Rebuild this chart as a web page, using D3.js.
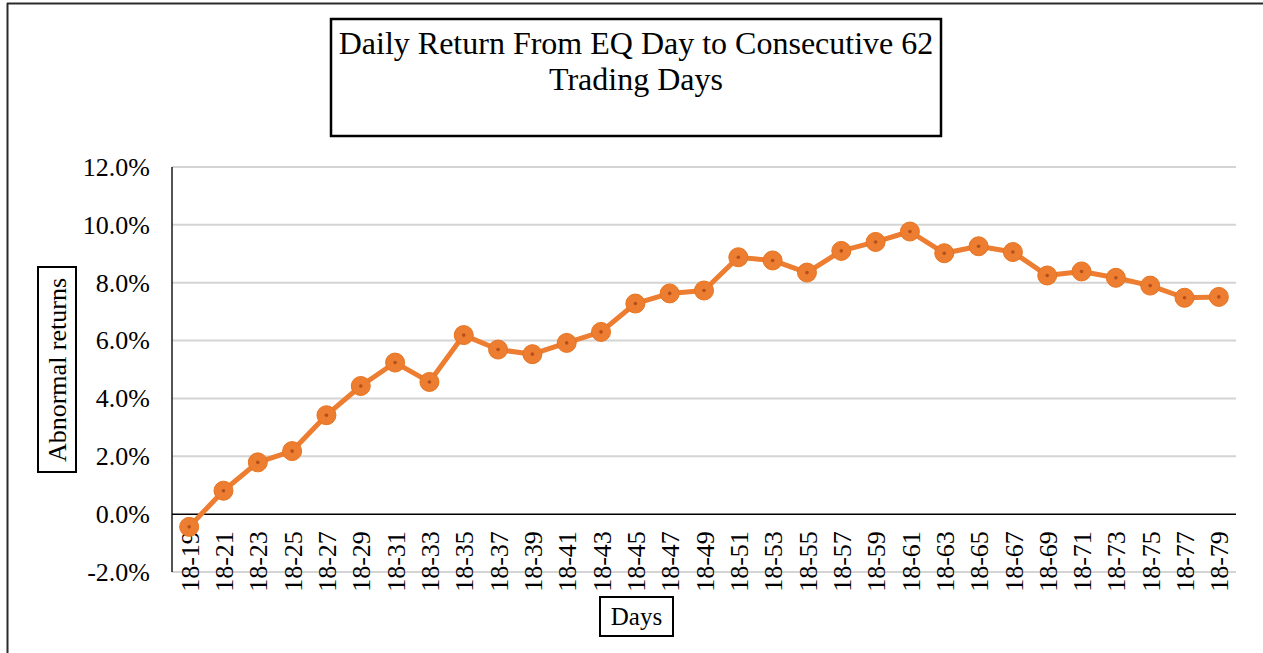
<!DOCTYPE html>
<html>
<head>
<meta charset="utf-8">
<script src="https://cdn.jsdelivr.net/npm/d3@7"></script>
<style>
  body { margin: 0; background: #fff; }
  svg { display: block; }
  svg text { font-family: "Liberation Serif", "DejaVu Serif", serif; fill: #000; }
</style>
</head>
<body>
<svg width="1263" height="653"></svg>
<script>
// categories (day windows) and abnormal returns
var days = ["18-19","18-21","18-23","18-25","18-27","18-29","18-31","18-33","18-35","18-37",
            "18-39","18-41","18-43","18-45","18-47","18-49","18-51","18-53","18-55","18-57",
            "18-59","18-61","18-63","18-65","18-67","18-69","18-71","18-73","18-75","18-77","18-79"];
var returns = [-0.0044, 0.0081, 0.0179, 0.0218, 0.0342, 0.0443, 0.0524, 0.0457, 0.0619, 0.0569,
               0.0553, 0.0592, 0.0630, 0.0728, 0.0763, 0.0773, 0.0888, 0.0877, 0.0835, 0.0910,
               0.0941, 0.0977, 0.0902, 0.0926, 0.0906, 0.0825, 0.0839, 0.0817, 0.0790, 0.0748, 0.0751];
var yTicks = [-0.02, 0, 0.02, 0.04, 0.06, 0.08, 0.10, 0.12];

var titleLines = ["Daily Return From EQ Day to Consecutive 62", "Trading Days"];
var yTitle = "Abnormal returns";
var xTitle = "Days";

var svg = d3.select("svg");
var plotL = 172, plotR = 1236, plotT = 167, plotB = 572;
var serif = "'Liberation Serif', serif";

var x = d3.scalePoint().domain(days).range([plotL, plotR]).padding(0.5);
var y = d3.scaleLinear().domain([-0.02, 0.12]).range([plotB, plotT]);

// outer frame (top and left edges visible)
svg.append("line").attr("x1", 7).attr("x2", 1263).attr("y1", 3.5).attr("y2", 3.5)
  .style("stroke", "#2b2b2b").style("stroke-width", 2);
svg.append("line").attr("x1", 7.5).attr("x2", 7.5).attr("y1", 3).attr("y2", 653)
  .style("stroke", "#2b2b2b").style("stroke-width", 2);

// title box
svg.append("rect").attr("x", 331).attr("y", 19).attr("width", 610).attr("height", 117)
  .style("fill", "#fff").style("stroke", "#000").style("stroke-width", 2.5);
svg.selectAll(".title").data(titleLines).enter().append("text")
  .attr("class", "title")
  .attr("x", 636)
  .attr("y", function (d, i) { return 54 + i * 36; })
  .attr("text-anchor", "middle")
  .style("font-family", serif)
  .style("font-size", "32px")
  .text(function (d) { return d; });

// gridlines
svg.append("g").selectAll("line").data(yTicks.filter(function (d) { return d !== 0; }))
  .enter().append("line")
  .attr("x1", plotL).attr("x2", plotR)
  .attr("y1", function (d) { return y(d); }).attr("y2", function (d) { return y(d); })
  .style("stroke", "#d4d4d4").style("stroke-width", 2);

// y axis
var pct = d3.format(".1%");
var yAxis = svg.append("g")
  .attr("transform", "translate(" + plotL + ",0)")
  .call(d3.axisLeft(y).tickValues(yTicks)
    .tickFormat(function (d) { return pct(d).replace("\u2212", "-"); })
    .tickSize(0).tickPadding(22));
yAxis.select(".domain").attr("d", "M0," + plotT + "V" + plotB).style("stroke", "#1a1a1a").style("stroke-width", 1.5);
yAxis.selectAll("text").style("font-size", "26px").style("font-family", serif).style("fill", "#000");

// x axis on zero line
var xAxis = svg.append("g")
  .attr("transform", "translate(0," + y(0) + ")")
  .call(d3.axisBottom(x).tickSize(0));
xAxis.select(".domain").attr("d", "M" + plotL + ",0H" + plotR).style("stroke", "#000").style("stroke-width", 1.5);
xAxis.selectAll("text")
  .attr("transform", "rotate(-90)")
  .attr("x", -17)
  .attr("y", 0)
  .attr("dy", "0.35em")
  .attr("text-anchor", "end")
  .style("font-size", "26px")
  .style("font-family", serif)
  .style("fill", "#000");

// axis titles in boxes
svg.append("rect").attr("x", 38).attr("y", 267).attr("width", 38).attr("height", 205)
  .style("fill", "#fff").style("stroke", "#000").style("stroke-width", 2);
svg.append("text")
  .attr("transform", "translate(66,370) rotate(-90)")
  .attr("text-anchor", "middle")
  .style("font-family", serif)
  .style("font-size", "26px")
  .text(yTitle);

svg.append("rect").attr("x", 600).attr("y", 597).attr("width", 73).attr("height", 39)
  .style("fill", "#fff").style("stroke", "#000").style("stroke-width", 2);
svg.append("text")
  .attr("x", 636.5).attr("y", 625)
  .attr("text-anchor", "middle")
  .style("font-family", serif)
  .style("font-size", "25px")
  .text(xTitle);

// series
var line = d3.line()
  .x(function (d, i) { return x(days[i]); })
  .y(function (d) { return y(d); });

svg.append("path")
  .datum(returns)
  .attr("d", line)
  .style("fill", "none")
  .style("stroke", "#ED7D31")
  .style("stroke-width", 5)
  .style("stroke-linejoin", "round");

var dots = svg.append("g").selectAll("g").data(returns).enter().append("g")
  .attr("transform", function (d, i) { return "translate(" + x(days[i]) + "," + y(d) + ")"; });
dots.append("circle").attr("r", 9.5)
  .style("fill", "#ED7D31").style("stroke", "#E6741F").style("stroke-width", 1);
dots.append("circle").attr("r", 1.8).style("fill", "#B5501A");
</script>
</body>
</html>
